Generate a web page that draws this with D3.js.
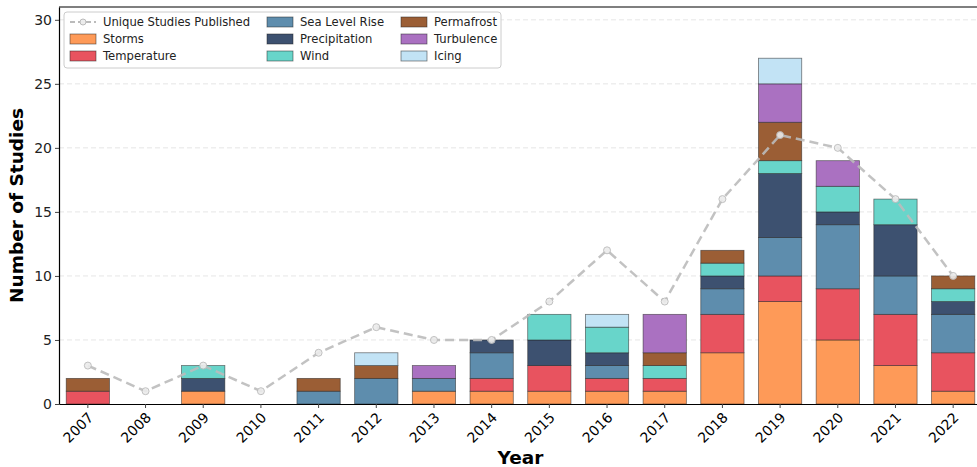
<!doctype html>
<html lang="en">
<head>
<meta charset="utf-8">
<script src="https://d3js.org/d3.v7.min.js"></script>
<style>
  body { margin: 0; background: #fff; }
  svg text { font-family: "DejaVu Sans", sans-serif; }
</style>
</head>
<body>
<div id="chart"></div>
<script>
// years on the x axis
var years = ["2007","2008","2009","2010","2011","2012","2013","2014","2015","2016","2017","2018","2019","2020","2021","2022"];

// studies per hazard category (stacked, bottom to top)
var categories = ["Storms","Temperature","Sea Level Rise","Precipitation","Wind","Permafrost","Turbulence","Icing"];
var storms        = [0,0,1,0,0,0,1,1,1,1,1,4,8,5,3,1];
var temperature   = [1,0,0,0,0,0,0,1,2,1,1,3,2,4,4,3];
var seaLevelRise  = [0,0,0,0,1,2,1,2,0,1,0,2,3,5,3,3];
var precipitation = [0,0,1,0,0,0,0,1,2,1,0,1,5,1,4,1];
var wind          = [0,0,1,0,0,0,0,0,2,2,1,1,1,2,2,1];
var permafrost    = [1,0,0,0,1,1,0,0,0,0,1,1,3,0,0,1];
var turbulence    = [0,0,0,0,0,0,1,0,0,0,3,0,3,2,0,0];
var icing         = [0,0,0,0,0,1,0,0,0,1,0,0,2,0,0,0];

// unique studies line
var uniqueStudies = [3,1,3,1,4,6,5,5,8,12,8,16,21,20,16,10];

var yTicks = [0,5,10,15,20,25,30];

var colors = ["#fe9a58","#e8535f","#5e8dad","#3d5170","#68d5ca","#9b5e35","#aa71c1","#c2e3f5"];
var series = [storms, temperature, seaLevelRise, precipitation, wind, permafrost, turbulence, icing];

var W = 977, H = 467;
var margin = {left: 59, top: 7, right: -5, bottom: 63};
var iw = W - margin.left - margin.right, ih = H - margin.top - margin.bottom;

var svg = d3.select("#chart").append("svg")
    .attr("width", W).attr("height", H);

var g = svg.append("g").attr("transform", "translate(" + margin.left + "," + margin.top + ")");

var x = d3.scaleBand().domain(years).range([0, iw]).paddingInner(0.25).paddingOuter(0.125);
var y = d3.scaleLinear().domain([0, 31]).range([ih, 0]);

// grid
g.append("g").selectAll("line").data(yTicks.slice(1)).enter().append("line")
    .attr("x1", 0).attr("x2", iw)
    .attr("y1", function (d) { return y(d); }).attr("y2", function (d) { return y(d); })
    .attr("stroke", "#d9d9d9").attr("stroke-width", 0.8).attr("stroke-dasharray", "5,3")
    .attr("opacity", 0.8);

// stacked data
var rows = years.map(function (yr, i) {
    var r = {year: yr};
    categories.forEach(function (c, k) { r[c] = series[k][i]; });
    return r;
});
var stacked = d3.stack().keys(categories)(rows);

g.append("g").selectAll("g").data(stacked).enter().append("g")
    .attr("fill", function (d, i) { return colors[i]; })
    .selectAll("rect").data(function (d) { return d; }).enter()
    .filter(function (d) { return d[1] - d[0] > 0; })
    .append("rect")
    .attr("x", function (d) { return x(d.data.year); })
    .attr("width", x.bandwidth())
    .attr("y", function (d) { return y(d[1]); })
    .attr("height", function (d) { return y(d[0]) - y(d[1]); })
    .attr("stroke", "#222").attr("stroke-opacity", 0.6).attr("stroke-width", 0.8);

// unique studies line
var line = d3.line()
    .x(function (d, i) { return x(years[i]) + x.bandwidth() / 2; })
    .y(function (d) { return y(d); });

g.append("path").datum(uniqueStudies)
    .attr("d", line)
    .attr("fill", "none").attr("stroke", "#bbbbbb").attr("stroke-width", 2.5)
    .attr("stroke-dasharray", "9,5").attr("opacity", 0.9);

g.append("g").selectAll("circle").data(uniqueStudies).enter().append("circle")
    .attr("cx", function (d, i) { return x(years[i]) + x.bandwidth() / 2; })
    .attr("cy", function (d) { return y(d); })
    .attr("r", 3.5)
    .attr("fill", "#ececec").attr("stroke", "#bbbbbb").attr("stroke-width", 1).attr("opacity", 0.9);

// axes
var xAxis = g.append("g").attr("transform", "translate(0," + ih + ")")
    .call(d3.axisBottom(x).tickSize(4).tickSizeOuter(0));
xAxis.selectAll("text")
    .attr("font-size", 14).attr("fill", "#000")
    .attr("text-anchor", "end")
    .attr("x", 0).attr("y", 0).attr("dy", "0.35em")
    .attr("transform", "translate(3,11) rotate(-45)");

var yAxis = g.append("g")
    .call(d3.axisLeft(y).tickValues(yTicks).tickSize(4).tickSizeOuter(0));
yAxis.selectAll("text").attr("font-size", 14).attr("fill", "#222");

g.selectAll(".domain").attr("stroke", "#000").attr("stroke-width", 1.2);
g.selectAll(".tick line").attr("stroke", "#444");

// frame (top/right)
g.append("line").attr("x1", 0).attr("x2", iw).attr("y1", 0).attr("y2", 0)
    .attr("stroke", "#000").attr("stroke-width", 1.2);
g.append("line").attr("x1", iw).attr("x2", iw).attr("y1", 0).attr("y2", ih)
    .attr("stroke", "#000").attr("stroke-width", 1.2);

// axis titles
svg.append("text").attr("x", margin.left + iw / 2).attr("y", 464)
    .attr("text-anchor", "middle").attr("font-size", 18.5).attr("font-weight", "bold")
    .text("Year");
svg.append("text").attr("transform", "translate(23," + (margin.top + y(15.5)) + ") rotate(-90)")
    .attr("text-anchor", "middle").attr("font-size", 18.5).attr("font-weight", "bold")
    .text("Number of Studies");

// legend
var legend = svg.append("g").attr("transform", "translate(64,12)");
legend.append("rect").attr("width", 437).attr("height", 56).attr("rx", 3)
    .attr("fill", "#fff").attr("fill-opacity", 0.9)
    .attr("stroke", "#ccc").attr("stroke-width", 1);

var items = [{label: "Unique Studies Published", line: true}].concat(
    categories.map(function (c, i) { return {label: c, color: colors[i]}; }));
var colX = [6, 203, 337];

items.forEach(function (it, i) {
    var col = Math.floor(i / 3), row = i % 3;
    var ig = legend.append("g").attr("transform", "translate(" + colX[col] + "," + (10 + row * 17) + ")");
    if (it.line) {
        ig.append("line").attr("x1", 0).attr("x2", 26).attr("y1", 0).attr("y2", 0)
            .attr("stroke", "#bbbbbb").attr("stroke-width", 2).attr("stroke-dasharray", "5,3");
        ig.append("circle").attr("cx", 13).attr("cy", 0).attr("r", 3)
            .attr("fill", "#ececec").attr("stroke", "#bbbbbb");
    } else {
        ig.append("rect").attr("x", 0).attr("y", -5).attr("width", 26).attr("height", 10)
            .attr("fill", it.color).attr("stroke", "#222").attr("stroke-opacity", 0.6).attr("stroke-width", 0.8);
    }
    ig.append("text").attr("x", 33).attr("y", 0).attr("dy", "0.35em")
        .attr("font-size", 11.6).attr("fill", "#222").text(it.label);
});
</script>
</body>
</html>
